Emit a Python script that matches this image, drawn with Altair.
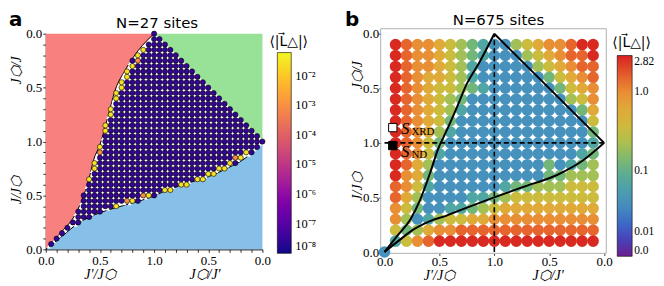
import altair as alt
import numpy as np
import pandas as pd

# ======================= panel a : N=27 sites =======================
# phase boundaries (axis runs 0..2, labels 0..1..0)
red_x = [0.0, 0.09, 0.18, 0.244, 0.335, 0.397, 0.442, 0.50, 0.565, 0.641, 0.733, 0.855, 1.0]
red_y = [0.0, 0.10, 0.20, 0.277, 0.46, 0.646, 0.83, 0.97, 1.20, 1.477, 1.662, 1.846, 2.0]
blue_x = [0.0, 0.152, 0.305, 0.458, 0.641, 0.855, 1.0, 1.129, 1.312, 1.495, 1.679, 1.862, 2.0]
blue_y = [0.0, 0.123, 0.246, 0.323, 0.385, 0.446, 0.495, 0.554, 0.616, 0.671, 0.754, 0.861, 1.0]
diag_x = [1.0, 2.0]
diag_y = [2.0, 1.0]

grid_a = [round(0.05 * i, 2) for i in range(41)]      # simulated grid, step 0.05
bulk_value_a = 3e-8                                   # deep-inside value
edge_x = [0.90, 0.85, 0.85, 0.80, 0.75, 0.75, 0.70, 0.70, 0.65, 0.65, 0.60, 0.60, 0.55, 0.55,
          0.50, 0.50, 0.45, 0.45, 0.40,
          0.65, 0.75, 0.80, 0.90, 0.95, 1.10, 1.15, 1.25, 1.30, 1.40, 1.45, 1.50, 1.55, 1.60,
          1.65, 1.70, 1.75, 1.80, 1.85]
edge_y = [1.85, 1.80, 1.75, 1.70, 1.65, 1.60, 1.55, 1.50, 1.45, 1.40, 1.30, 1.25, 1.15, 1.10,
          0.95, 0.90, 0.80, 0.75, 0.65,
          0.40, 0.45, 0.45, 0.50, 0.50, 0.55, 0.55, 0.60, 0.60, 0.65, 0.65, 0.70, 0.70, 0.75,
          0.75, 0.80, 0.85, 0.85, 0.90]
edge_v = [2.5e-2, 2.5e-2, 1e-3, 2.5e-2, 2.5e-2, 2.5e-2, 2.5e-2, 2.5e-2, 2.5e-2, 2.5e-2, 2.5e-2,
          2.5e-2, 2.5e-2, 2.5e-2, 2.5e-2, 1e-3, 2.5e-2, 2.5e-2, 2.5e-2,
          2.5e-2, 1e-3, 2.5e-2, 1e-3, 2.5e-2, 2.5e-2, 2.5e-2, 2.5e-2, 2.5e-2, 2.5e-2, 2.5e-2,
          2.5e-2, 2.5e-2, 2.5e-2, 2.5e-2, 2.5e-2, 1e-3, 2.5e-2, 2.5e-2]

# ======================= panel b : N=675 sites =======================
cols_b = [round(0.1 * i, 1) for i in range(1, 20)]
rows_b = [round(1.9 - 0.1 * j, 1) for j in range(19)]
level_value = [0.035, 0.07, 0.13, 0.2, 0.35, 0.6, 1.0, 1.5, 2.6]
levels_b = [
    [8, 7, 6, 6, 5, 4, 3, 2, 1, 0, 0, 3, 4, 5, 6, 6, 7, 8, 8],
    [8, 7, 6, 6, 5, 4, 3, 2, 1, 0, 0, 0, 3, 4, 5, 6, 7, 7, 8],
    [8, 7, 6, 6, 5, 4, 3, 1, 0, 0, 0, 0, 0, 3, 4, 5, 6, 7, 7],
    [8, 7, 6, 5, 5, 4, 3, 1, 0, 0, 0, 0, 0, 0, 2, 4, 5, 6, 7],
    [8, 7, 6, 5, 4, 4, 3, 2, 1, 0, 0, 0, 0, 0, 0, 2, 4, 5, 6],
    [8, 7, 6, 5, 4, 3, 2, 0, 0, 0, 0, 0, 0, 0, 0, 0, 3, 4, 6],
    [8, 7, 6, 5, 4, 3, 1, 0, 0, 0, 0, 0, 0, 0, 0, 0, 0, 2, 5],
    [8, 7, 6, 5, 4, 2, 0, 0, 0, 0, 0, 0, 0, 0, 0, 0, 0, 0, 4],
    [8, 7, 6, 5, 3, 1, 0, 0, 0, 0, 0, 0, 0, 0, 0, 0, 0, 0, 2],
    [8, 7, 6, 4, 2, 0, 0, 0, 0, 0, 0, 0, 0, 0, 0, 0, 0, 0, 1],
    [8, 7, 6, 4, 1, 0, 0, 0, 0, 0, 0, 0, 0, 0, 0, 0, 0, 1, 2],
    [8, 7, 5, 3, 0, 0, 0, 0, 0, 0, 0, 0, 0, 0, 2, 0, 1, 2, 3],
    [8, 6, 5, 2, 0, 0, 0, 0, 0, 0, 0, 0, 0, 0, 2, 2, 3, 3, 3],
    [7, 6, 4, 1, 0, 0, 0, 0, 0, 0, 1, 2, 2, 3, 3, 3, 4, 4, 4],
    [7, 5, 3, 0, 0, 0, 0, 1, 1, 2, 3, 4, 4, 4, 4, 4, 4, 4, 4],
    [6, 4, 2, 0, 0, 1, 1, 2, 3, 4, 5, 5, 5, 5, 5, 5, 5, 5, 5],
    [6, 3, 0, 1, 3, 4, 4, 5, 5, 6, 6, 6, 6, 6, 6, 6, 6, 6, 6],
    [4, 2, 3, 5, 6, 6, 7, 7, 7, 7, 7, 7, 7, 7, 7, 7, 7, 7, 7],
    [1, 4, 6, 7, 8, 8, 8, 8, 8, 8, 8, 8, 8, 8, 8, 8, 8, 8, 8],
]
origin_value_b = 0.035
dot_pos_b = [round(0.15 + 0.1 * i, 2) for i in range(18)]

upper_x = [0.0, 0.114, 0.235, 0.325, 0.415, 0.49, 0.56, 0.656, 0.745, 0.866, 1.0]
upper_y = [0.0, 0.146, 0.298, 0.48, 0.724, 0.95, 1.10, 1.319, 1.531, 1.74, 2.0]
lower_x = [0.0, 0.144, 0.265, 0.415, 0.565, 0.745, 0.986, 1.275, 1.576, 1.816, 2.0]
lower_y = [0.0, 0.116, 0.207, 0.283, 0.334, 0.405, 0.496, 0.6, 0.708, 0.845, 1.0]

sq_x = [0.075, 0.075]
sq_y = [1.14, 0.975]
sq_fill = ['white', 'black']
s_label_y = [1.13, 0.92]
s_sub = ['XRD', 'ND']
s_sub_y = [1.095, 0.885]

cb_vals = [0.0, 0.005, 0.01, 0.02, 0.035, 0.07, 0.13, 0.2, 0.35, 0.6, 1.0, 1.5, 2.3, 2.82]
cb_cols = ['#6a1f8f', '#4e3bb5', '#3a58c6', '#3d76c4', '#4792bd', '#4fa6a3', '#72b67a',
           '#a2c055', '#cbbc3e', '#dfaa38', '#e88e35', '#e6652d', '#dd3a25', '#d62020']
cb_ticks = [0.0, 0.01, 0.1, 1.0, 2.82]
cbar_title = '⟨|L⃗△|⟩'

# ======================= helpers =======================
SERIF = 'Liberation Serif'
W_A, H_A = 218, 217
W_B, H_B = 227, 221
LBL = ("abs(datum.value * 2 - round(datum.value * 2)) < 0.01 ? "
       "format(datum.value <= 1.001 ? datum.value : 2 - datum.value, '.1f') : ''")


def make_axis(vals, tick, pad, domain=True):
    kw = dict(values=vals, labelExpr=LBL, title=None, grid=False, tickSize=tick,
              tickColor='black', tickWidth=0.8, labelFont=SERIF, labelFontSize=13,
              labelColor='black', labelOverlap=False, labelPadding=pad, labelFlush=False,
              domain=domain)
    if domain:
        kw.update(domainColor='black', domainWidth=1)
    return alt.Axis(**kw)


def tval(v):
    return float(np.log10(1 + v / 0.01))


def label_text(txt, x, y, size, **kw):
    return alt.Chart(pd.DataFrame({'t': [txt]})).mark_text(fontSize=size, color='black', **kw).encode(
        text='t:N', x=alt.value(x), y=alt.value(y))


# ---------------- panel a build ----------------
ticks_a = [round(0.1 * i, 1) for i in range(21)]
axx_a = make_axis(ticks_a, 3, 2)
axy_a = make_axis(ticks_a, 3, 1)
sxa = alt.Scale(domain=[0, 2], nice=False, zero=False)
sya = alt.Scale(domain=[0, 2], nice=False, zero=False)


def XA(f):
    return alt.X(f, type='quantitative', scale=sxa, axis=axx_a)


def YA(f):
    return alt.Y(f, type='quantitative', scale=sya, axis=axy_a)


def inside_a(x, y):
    xr = np.interp(y, red_y, red_x)
    yb = np.interp(x, blue_x, blue_y)
    return x > 0 and x >= xr - 1e-9 and y >= yb - 1e-9 and x + y <= 3 + 1e-9


vals = {}
for yy in grid_a:
    for xx in grid_a:
        if inside_a(xx, yy):
            vals[(xx, yy)] = bulk_value_a
for ex, ey, ev in zip(edge_x, edge_y, edge_v):
    vals[(ex, ey)] = ev
circ_a = pd.DataFrame([{'x': k[0], 'y': k[1], 'v': v} for k, v in vals.items()])

tri = []
for yy in grid_a:
    for xx in grid_a:
        px, py = xx + 0.025, yy + 0.025
        if px < 2 and py < 2 and inside_a(px, py):
            tri.append({'x': px, 'y': py})
tri_a = pd.DataFrame(tri)

red_df = pd.DataFrame({'x': red_x, 'y': red_y, 'x0': 0.0, 'i': range(len(red_x))})
blue_df = pd.DataFrame({'x': blue_x, 'y': blue_y, 'y0': 0.0, 'i': range(len(blue_x))})
green_df = pd.DataFrame({'x': diag_x, 'y': diag_y, 'y2': 2.0, 'i': range(2)})

red_area = alt.Chart(red_df).mark_area(orient='horizontal', color='#f8807e', opacity=1,
                                       interpolate='monotone').encode(
    x=XA('x'), x2=alt.X2('x0'), y=YA('y'))
green_area = alt.Chart(green_df).mark_area(color='#98e298', opacity=1).encode(
    x=XA('x'), y=YA('y'), y2=alt.Y2('y2'))
blue_area = alt.Chart(blue_df).mark_area(color='#86c0e8', opacity=1, interpolate='monotone').encode(
    x=XA('x'), y=YA('y'), y2=alt.Y2('y0'))


def bline(df, w=1.0):
    return alt.Chart(df).mark_line(color='black', strokeWidth=w, interpolate='monotone').encode(
        x=XA('x'), y=YA('y'), order='i:Q')


tri_layer = alt.Chart(tri_a).mark_point(shape='triangle-up', filled=True, color='white',
                                         size=16, opacity=1).encode(x=XA('x'), y=YA('y'))
lbl_a = ("datum.value < 3e-8 ? '10⁻⁸' : datum.value < 3e-7 ? '10⁻⁷' : datum.value < 3e-6 ? '10⁻⁶' : "
         "datum.value < 3e-5 ? '10⁻⁵' : datum.value < 3e-4 ? '10⁻⁴' : datum.value < 3e-3 ? '10⁻³' : '10⁻²'")
circles_a = alt.Chart(circ_a).mark_circle(size=27, stroke='black', strokeWidth=0.6, opacity=1).encode(
    x=XA('x'), y=YA('y'),
    color=alt.Color('v:Q', scale=alt.Scale(type='log', domain=[1e-8, 6e-2], scheme='plasma'),
                    legend=alt.Legend(title=None, values=[1e-8, 1e-7, 1e-6, 1e-5, 1e-4, 1e-3, 1e-2],
                                      labelExpr=lbl_a, orient='none', legendX=W_A + 15, legendY=19,
                                      gradientLength=202, gradientThickness=14,
                                      gradientStrokeColor='black', gradientStrokeWidth=0.6,
                                      labelFont=SERIF, labelFontSize=12.5, labelColor='black',
                                      labelOverlap=False, labelOffset=4, direction='vertical')))

txt_a_title = label_text('N=27 sites', W_A / 2 + 3, -6, 15, font='DejaVu Sans', baseline='alphabetic',
                         align='center')
txt_a_tag = label_text('a', -37, -8, 20, font='DejaVu Sans', fontWeight='bold',
                       baseline='alphabetic', align='left')
txt_a_cb = label_text(cbar_title, W_A + 7, 1, 14, font='DejaVu Serif, DejaVu Sans', baseline='top',
                      align='left')
xt_a = alt.Chart(pd.DataFrame({'x': [0.5, 1.47], 't': ['J′/J⬡', 'J⬡/J′']})).mark_text(
    font=SERIF, fontStyle='italic', fontSize=14, baseline='middle', color='black').encode(
    text='t:N', x=XA('x'), y=alt.value(H_A + 26))
yt_a = alt.Chart(pd.DataFrame({'y': [0.55, 1.66], 't': ['J/J⬡', 'J⬡/J']})).mark_text(
    font=SERIF, fontStyle='italic', fontSize=14, baseline='middle', angle=270, color='black').encode(
    text='t:N', y=YA('y'), x=alt.value(-29))

chart_a = alt.layer(
    red_area, green_area, blue_area,
    bline(red_df), bline(blue_df), bline(green_df),
    tri_layer, circles_a, txt_a_title, txt_a_tag, txt_a_cb, xt_a, yt_a,
).properties(width=W_A, height=H_A, view=alt.ViewBackground(stroke='transparent'))

# ---------------- panel b build ----------------
ticks_b = [0.0, 0.5, 1.0, 1.5, 2.0]
axx_b = make_axis(ticks_b, 2, 0, domain=False)
axy_b = make_axis(ticks_b, 2, 0, domain=False)
sxb = alt.Scale(domain=[-0.035, 2.02], nice=False, zero=False)
syb = alt.Scale(domain=[-0.012, 2.0], nice=False, zero=False)


def XB(f):
    return alt.X(f, type='quantitative', scale=sxb, axis=axx_b)


def YB(f):
    return alt.Y(f, type='quantitative', scale=syb, axis=axy_b)


recs = [{'x': 0.0, 'y': 0.0, 'v': origin_value_b}]
for j, yy in enumerate(rows_b):
    for i, xx in enumerate(cols_b):
        recs.append({'x': xx, 'y': yy, 'v': level_value[levels_b[j][i]]})
circ_b = pd.DataFrame(recs)
dots_b = pd.DataFrame([{'x': a, 'y': b} for a in dot_pos_b for b in dot_pos_b])

frame_b = alt.Chart(pd.DataFrame({'k': [0]})).mark_rect(
    fillOpacity=0, stroke='#b0b0b0', strokeWidth=1).encode(
    x=alt.value(0), x2=alt.value(W_B), y=alt.value(-5), y2=alt.value(H_B))

lbl_b = ("datum.value < 0.15 ? '0.0' : datum.value < 0.6 ? '0.01' : datum.value < 1.5 ? '0.1' : "
         "datum.value < 2.2 ? '1.0' : '2.82'")
circles_b = alt.Chart(circ_b).transform_calculate(
    t='log(1 + datum.v / 0.01) / LN10').mark_circle(size=135, opacity=1).encode(
    x=XB('x'), y=YB('y'),
    color=alt.Color('t:Q', scale=alt.Scale(domain=[tval(v) for v in cb_vals], range=cb_cols,
                                           interpolate='rgb'),
                    legend=alt.Legend(title=None, values=[tval(v) for v in cb_ticks],
                                      labelExpr=lbl_b, orient='none', legendX=W_B + 11, legendY=22,
                                      gradientLength=202, gradientThickness=15,
                                      gradientStrokeColor='black', gradientStrokeWidth=0.6,
                                      labelFont=SERIF, labelFontSize=11.5, labelColor='black',
                                      labelOverlap=False, labelOffset=2, direction='vertical')))
dots_layer = alt.Chart(dots_b).mark_circle(size=7, color='white', opacity=1).encode(
    x=XB('x'), y=YB('y'))

up_df = pd.DataFrame({'x': upper_x, 'y': upper_y, 'i': range(len(upper_x))})
lo_df = pd.DataFrame({'x': lower_x, 'y': lower_y, 'i': range(len(lower_x))})
dg_df = pd.DataFrame({'x': diag_x, 'y': diag_y, 'i': range(2)})


def kline(df, interp='monotone'):
    return alt.Chart(df).mark_line(color='black', strokeWidth=2, interpolate=interp).encode(
        x=XB('x'), y=YB('y'), order='i:Q')


dash_v = alt.Chart(pd.DataFrame({'x': [1.0], 'y': [0.0], 'y2': [2.0]})).mark_rule(
    color='black', strokeWidth=1.6, strokeDash=[5, 3]).encode(x=XB('x'), y=YB('y'), y2=alt.Y2('y2'))
dash_h = alt.Chart(pd.DataFrame({'y': [1.0], 'x': [0.0], 'x2': [2.0]})).mark_rule(
    color='black', strokeWidth=1.6, strokeDash=[5, 3]).encode(y=YB('y'), x=XB('x'), x2=alt.X2('x2'))

sq_df = pd.DataFrame({'x': sq_x, 'y': sq_y, 'f': sq_fill})
squares = alt.Chart(sq_df).mark_point(shape='square', filled=True, size=70, stroke='black',
                                      strokeWidth=1, opacity=1).encode(
    x=XB('x'), y=YB('y'), fill=alt.Fill('f:N', scale=None))
s_main = alt.Chart(pd.DataFrame({'x': [0.15, 0.15], 'y': s_label_y, 't': ['S', 'S']})).mark_text(
    font=SERIF, fontStyle='italic', fontSize=17, align='left', baseline='middle', color='black').encode(
    text='t:N', x=XB('x'), y=YB('y'))
s_subs = alt.Chart(pd.DataFrame({'x': [0.245, 0.245], 'y': s_sub_y, 't': s_sub})).mark_text(
    font=SERIF, fontSize=11, align='left', baseline='middle', color='black').encode(
    text='t:N', x=XB('x'), y=YB('y'))

txt_b_title = label_text('N=675 sites', W_B / 2 + 5, -9, 15, font='DejaVu Sans', baseline='alphabetic',
                         align='center')
txt_b_tag = label_text('b', -36, -8, 20, font='DejaVu Sans', fontWeight='bold',
                       baseline='alphabetic', align='left')
txt_b_cb = label_text(cbar_title, W_B + 6, 2, 14, font='DejaVu Serif, DejaVu Sans', baseline='top',
                      align='left')
xt_b = alt.Chart(pd.DataFrame({'x': [0.5, 1.49], 't': ['J′/J⬡', 'J⬡/J′']})).mark_text(
    font=SERIF, fontStyle='italic', fontSize=14, baseline='middle', color='black').encode(
    text='t:N', x=XB('x'), y=alt.value(H_B + 23))
yt_b = alt.Chart(pd.DataFrame({'y': [0.6, 1.62], 't': ['J/J⬡', 'J⬡/J']})).mark_text(
    font=SERIF, fontStyle='italic', fontSize=14, baseline='middle', angle=270, color='black').encode(
    text='t:N', y=YB('y'), x=alt.value(-23))

chart_b = alt.layer(
    frame_b, circles_b, dots_layer, dash_v, dash_h, kline(up_df), kline(lo_df), kline(dg_df, 'linear'),
    squares, s_main, s_subs, txt_b_title, txt_b_tag, txt_b_cb, xt_b, yt_b,
).properties(width=W_B, height=H_B, view=alt.ViewBackground(stroke='transparent'))

chart = alt.hconcat(chart_a, chart_b, spacing=27).resolve_scale(
    color='independent', x='independent', y='independent').properties(
    padding={'left': 0, 'top': 0, 'right': 0, 'bottom': 0}).configure(font='DejaVu Sans')

chart.save("out.html", embed_options={"renderer": "svg", "actions": False})
